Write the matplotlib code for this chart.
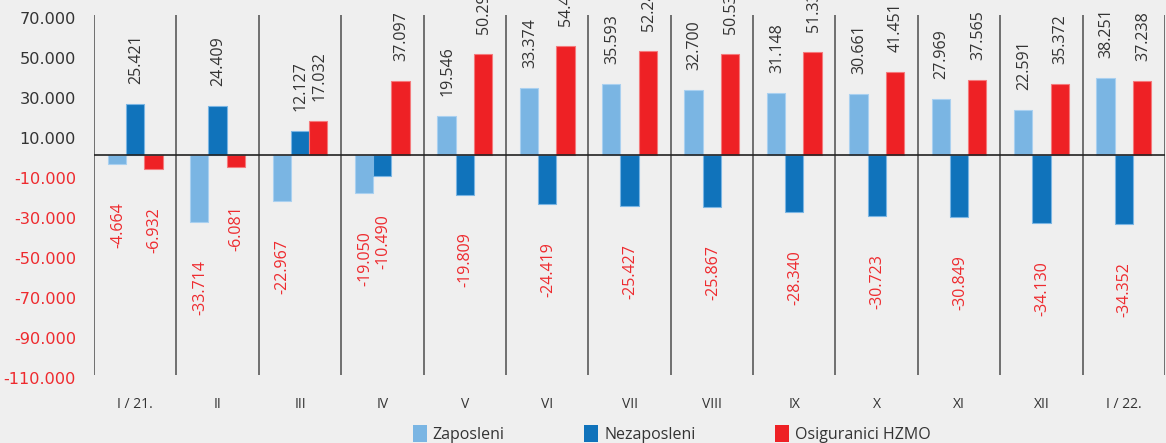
import matplotlib
matplotlib.use("Agg")
import matplotlib.pyplot as plt
import matplotlib.transforms as mtransforms
from matplotlib.patches import Patch
import numpy as np

# podaci (mjesečne promjene)
mjeseci = ["I / 21.", "II", "III", "IV", "V", "VI", "VII", "VIII", "IX", "X", "XI", "XII", "I / 22."]
zaposleni = [-4664, -33714, -22967, -19050, 19546, 33374, 35593, 32700, 31148, 30661, 27969, 22591, 38251]
nezaposleni = [25421, 24409, 12127, -10490, -19809, -24419, -25427, -25867, -28340, -30723, -30849, -34130, -34352]
osiguranici = [-6932, -6081, 17032, 37097, 50291, 54430, 52240, 50530, 51335, 41451, 37565, 35372, 37238]
serije = ["Zaposleni", "Nezaposleni", "Osiguranici HZMO"]
yticks = [70000, 50000, 30000, 10000, -10000, -30000, -50000, -70000, -90000, -110000]

boje = ["#7ab5e3", "#1073bb", "#ee2125"]
rubovi = ["#a9d0f0", "#7ab5e3", "#f47a7c"]
crvena = "#ee2a2e"
tamna = "#333333"
pozadina = "#efefef"


def fmt(v):
    s = f"{abs(v):,}".replace(",", ".")
    return "-" + s if v < 0 else s


fig = plt.figure(figsize=(11.66, 4.43), dpi=100, facecolor=pozadina)
ax = fig.add_axes([94 / 1166, 1 - 375 / 443, 1071 / 1166, 360 / 443])
ax.set_facecolor(pozadina)

x = np.arange(len(mjeseci))
w = 0.222
for i, (vals, c, ec) in enumerate(zip([zaposleni, nezaposleni, osiguranici], boje, rubovi)):
    pos = x + (i - 1) * w
    ax.bar(pos, vals, width=w, color=c, edgecolor=ec, linewidth=0.8, zorder=3)
    for xp, v in zip(pos, vals):
        if v >= 0:
            ax.annotate(fmt(v), (xp, v), xytext=(1, 20), textcoords="offset pixels",
                        rotation=90, ha="center", va="bottom", fontsize=11.5,
                        color=tamna, family="Open Sans", annotation_clip=False)
        else:
            ax.annotate(fmt(v), (xp, v), xytext=(1, -38), textcoords="offset pixels",
                        rotation=90, ha="center", va="top", fontsize=11.5,
                        color=crvena, family="Open Sans", annotation_clip=False)

ax.set_xlim(-0.5, len(mjeseci) - 0.5)
ax.set_ylim(-110000, 70000)

# separatori grupa
for k in range(len(mjeseci) + 1):
    ax.axvline(k - 0.5, color="#5a5a5a", lw=1.2, zorder=2)
ax.axhline(0, color="#222222", lw=1.2, zorder=4)

for s in ax.spines.values():
    s.set_visible(False)

ax.tick_params(axis="y", length=0, pad=13)
ax.tick_params(axis="x", length=0, pad=16)

ax.set_yticks(yticks)
ax.set_yticklabels([fmt(v) for v in yticks], family="DejaVu Sans", fontsize=11.6)
offset = mtransforms.ScaledTranslation(0, -3 / 100, fig.dpi_scale_trans)
for lab, v in zip(ax.get_yticklabels(), yticks):
    lab.set_color(crvena if v < 0 else tamna)
    lab.set_transform(lab.get_transform() + offset)

ax.set_xticks(x)
ax.set_xticklabels(mjeseci, family="Open Sans", fontsize=10, color=tamna)

handles = [Patch(facecolor=c, edgecolor="none") for c in boje]
fig.legend(handles, serije, loc="center", bbox_to_anchor=(0.576, 0.0203), ncol=3,
           frameon=False, prop={"family": "Open Sans", "size": 11.5},
           handlelength=0.875, handleheight=1.2, handletextpad=0.375,
           columnspacing=4.97, labelcolor=tamna, borderpad=0)

fig.savefig("out.png", dpi=100, facecolor=pozadina)
